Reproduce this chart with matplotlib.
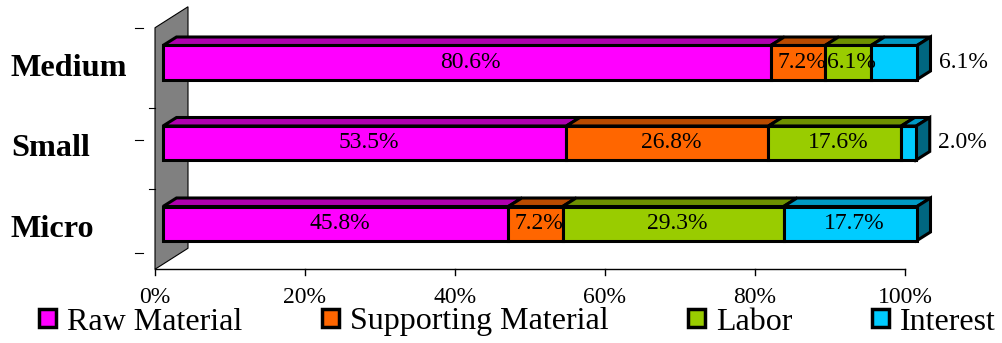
import matplotlib
matplotlib.use('Agg')
import matplotlib.pyplot as plt
from matplotlib.patches import Polygon, Patch
import matplotlib.transforms as mtransforms

# ---------------- data ----------------
categories = ['Micro', 'Small', 'Medium']
series = ['Raw Material', 'Supporting Material', 'Labor', 'Interest']
raw_material = [45.8, 53.5, 80.6]
supporting_material = [7.2, 26.8, 7.2]
labor = [29.3, 17.6, 6.1]
interest = [17.7, 2.0, 6.1]
xticks = [0, 20, 40, 60, 80, 100]
xtick_labels = ['0%', '20%', '40%', '60%', '80%', '100%']

# ---------------- style ----------------
front_colors = ['#FF00FF', '#FF6600', '#99CC00', '#00CCFF']
top_colors = ['#B000B0', '#B84A00', '#6E9000', '#0099C4']
side_color = '#006680'
wall_color = '#808080'
FONT = 'Liberation Serif'

W, H = 1003, 343
fig = plt.figure(figsize=(W / 100, H / 100), dpi=100)
PX_X = 7.54      # pixels per percent
PX_Y = 80.5      # pixels per category step
ax = fig.add_axes([163 / W, 79.25 / H, 754 / W, 241.5 / H])
ax.set_xlim(0, 100)
ax.set_ylim(-0.5, 2.5)
ax.axis('off')

BAR_H = 34 / PX_Y
BDX, BDY = 13.5 / PX_X, 8.5 / PX_Y          # bar depth
FX, FY = -8 / PX_X, -5.5 / PX_Y             # front plane offset
WX, WY = 33 / PX_X, 21 / PX_Y               # wall depth
FLOOR_S = 750 / 754
LW = 2.2

# wall
y_lo, y_hi = -0.5 + FY, 2.5 + FY
ax.add_patch(Polygon([(FX, y_lo), (FX, y_hi), (FX + WX, y_hi + WY), (FX + WX, y_lo + WY)],
                     closed=True, fc=wall_color, ec='black', lw=0.8, clip_on=False, zorder=1))

# floor axis
ax.plot([FX, FX + 100 * FLOOR_S], [y_lo, y_lo], color='black', lw=1.0, clip_on=False, zorder=2)
for v, lab in zip(xticks, xtick_labels):
    xx = FX + v * FLOOR_S
    ax.plot([xx, xx], [y_lo, y_lo - 6 / PX_Y], color='black', lw=1.0, clip_on=False, zorder=2)
    ax.text(xx, y_lo - 28 / PX_Y, lab, ha='center', va='center', fontsize=17,
            family=FONT, clip_on=False)

# category ticks (3D axis artifacts)
for b in [0.5, 1.5]:
    ax.plot([FX - 6 / PX_X, FX], [b + FY, b + FY], color='black', lw=0.8, clip_on=False)
for k in range(3):
    yy = y_hi - k * 112.5 / PX_Y
    ax.plot([-28 / PX_X, -20 / PX_X], [yy, yy], color='black', lw=0.8, clip_on=False)

# bars
values = [raw_material, supporting_material, labor, interest]
ypos = list(range(len(categories)))
left = [0.0] * len(categories)
for k, vals in enumerate(values):
    ax.barh(ypos, vals, left=left, height=BAR_H, color=front_colors[k],
            edgecolor='black', linewidth=LW, zorder=5, clip_on=False)
    for i, (l, v) in enumerate(zip(left, vals)):
        top = i + BAR_H / 2
        ax.add_patch(Polygon([(l, top), (l + v, top), (l + v + BDX, top + BDY), (l + BDX, top + BDY)],
                             closed=True, fc=top_colors[k], ec='black', lw=LW,
                             joinstyle='miter', zorder=4, clip_on=False))
        label = f'{v:.1f}%'
        if k == len(values) - 1 and v < 10:
            ax.text(l + v + 2.9, i, label, ha='left', va='center', fontsize=17,
                    family=FONT, zorder=7, clip_on=False)
        else:
            ax.text(l + v / 2 + 0.5, i, label, ha='center', va='center', fontsize=17,
                    family=FONT, zorder=7, clip_on=False)
    left = [l + v for l, v in zip(left, vals)]

# side faces
for i, t in enumerate(left):
    ax.add_patch(Polygon([(t, i - BAR_H / 2), (t, i + BAR_H / 2),
                          (t + BDX, i + BAR_H / 2 + BDY), (t + BDX, i - BAR_H / 2 + BDY)],
                         closed=True, fc=side_color, ec='black', lw=LW, zorder=4, clip_on=False))

# category labels
trans = mtransforms.blended_transform_factory(fig.transFigure, ax.transData)
for i, c in enumerate(categories):
    ax.text(11 / W, i + FY + 3 / PX_Y, c, transform=trans, ha='left', va='center_baseline',
            fontsize=23.2, fontweight='bold', family=FONT, clip_on=False)

# legend
handles = [Patch(facecolor=c, edgecolor='black', linewidth=2.5) for c in front_colors]
fig.legend(handles, series, ncol=4, loc='center left', bbox_to_anchor=(39 / W, 21 / H),
           frameon=False, prop={'family': FONT, 'size': 23}, handlelength=0.52,
           handleheight=0.52, handletextpad=0.35, columnspacing=2.5,
           borderpad=0, borderaxespad=0)

fig.savefig('out.png', dpi=100)
